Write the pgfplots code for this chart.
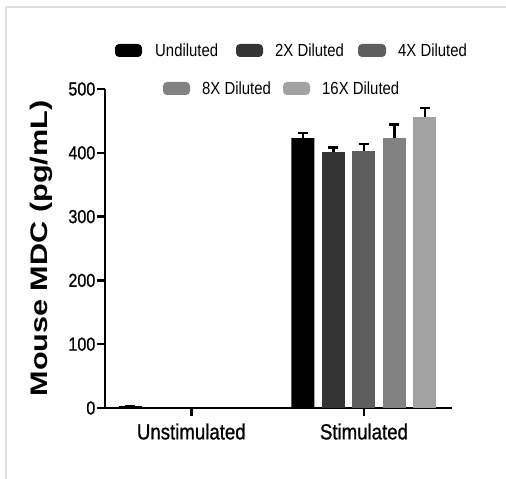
\documentclass[border=0pt]{standalone}
\usepackage{fontspec}
\setmainfont{Liberation Sans}[FakeStretch=0.85]
\newfontfamily\tickfont{Liberation Sans}[FakeStretch=0.85, FakeBold=0.8]
\newfontfamily\labfont{Liberation Sans}[FakeStretch=1.28]
\usepackage{pgfplots}
\pgfplotsset{compat=1.18}
\definecolor{cA}{HTML}{000000}
\definecolor{cB}{HTML}{353535}
\definecolor{cC}{HTML}{5E5E5E}
\definecolor{cD}{HTML}{828282}
\definecolor{cE}{HTML}{A2A2A2}
\pgfplotsset{
  errb/.style={error bars/y dir=plus, error bars/y explicit,
    error bars/error mark=|,
    error bars/error bar style={line width=2.5bp, black, solid},
    error bars/error mark options={line width=2.5bp, black, solid, mark size=5bp}},
  mybar/.style={draw=none, fill=#1, errb},
}

\begin{document}
\begin{tikzpicture}
\begin{scope}[x=1bp,y=1bp]
\useasboundingbox (0,0) rectangle (506,479);
\draw[gray!25, line width=2bp] (6,0) -- (6,472) -- (506,472);
\end{scope}
\begin{axis}[
  at={(105bp,71bp)}, anchor=south west,
  scale only axis, width=347bp, height=319bp,
  xmin=-0.5, xmax=1.51, ymin=0, ymax=500,
  ybar=7.5bp, bar width=23bp,
  axis x line*=bottom, axis y line*=left,
  axis line style={-, line width=2.5bp},
  x axis line style={shorten <=-7bp},
  xtick={0,1}, xticklabels={Unstimulated,Stimulated},
  ytick={0,100,...,500},
  tick align=outside, major tick length=8bp,
  every tick/.style={line width=2.5bp, black},
  major tick style={line width=2.5bp, black},
  xticklabel style={font=\tickfont\fontsize{22}{24}\selectfont, yshift=-4bp},
  yticklabel style={font=\tickfont\fontsize{19}{21}\selectfont, inner sep=1.5bp},
  /pgf/number format/assume math mode=true,
  ylabel={Mouse MDC (pg/mL)},
  every axis y label/.style={at={(axis description cs:-0.182,0.5)}, rotate=90, anchor=center,
    font=\labfont\bfseries\fontsize{24}{26}\selectfont},
]
\addplot[mybar=cA] coordinates {(0,3) +- (0,0) (1,423) +- (0,8)};
\addplot[mybar=cB] coordinates {(1,402) +- (0,6)};
\addplot[mybar=cC] coordinates {(1,403) +- (0,11)};
\addplot[mybar=cD] coordinates {(1,423) +- (0,21)};
\addplot[mybar=cE] coordinates {(1,456) +- (0,14)};
\end{axis}
% legend
\begin{scope}[x=1bp,y=1bp, every node/.style={anchor=west, inner sep=0, font=\fontsize{17.6}{20}\selectfont}]
\fill[cA, rounded corners=4bp] (115,422) rectangle (142,435);
\node at (155,428.5) {Undiluted};
\fill[cB, rounded corners=4bp] (236,422) rectangle (263,435);
\node at (275,428.5) {2X Diluted};
\fill[cC, rounded corners=4bp] (358,422) rectangle (386,435);
\node at (398,428.5) {4X Diluted};
\fill[cD, rounded corners=4bp] (163,384) rectangle (190,397);
\node at (202,390.5) {8X Diluted};
\fill[cE, rounded corners=4bp] (283,384) rectangle (310,397);
\node at (322,390.5) {16X Diluted};
\end{scope}
\end{tikzpicture}
\end{document}
